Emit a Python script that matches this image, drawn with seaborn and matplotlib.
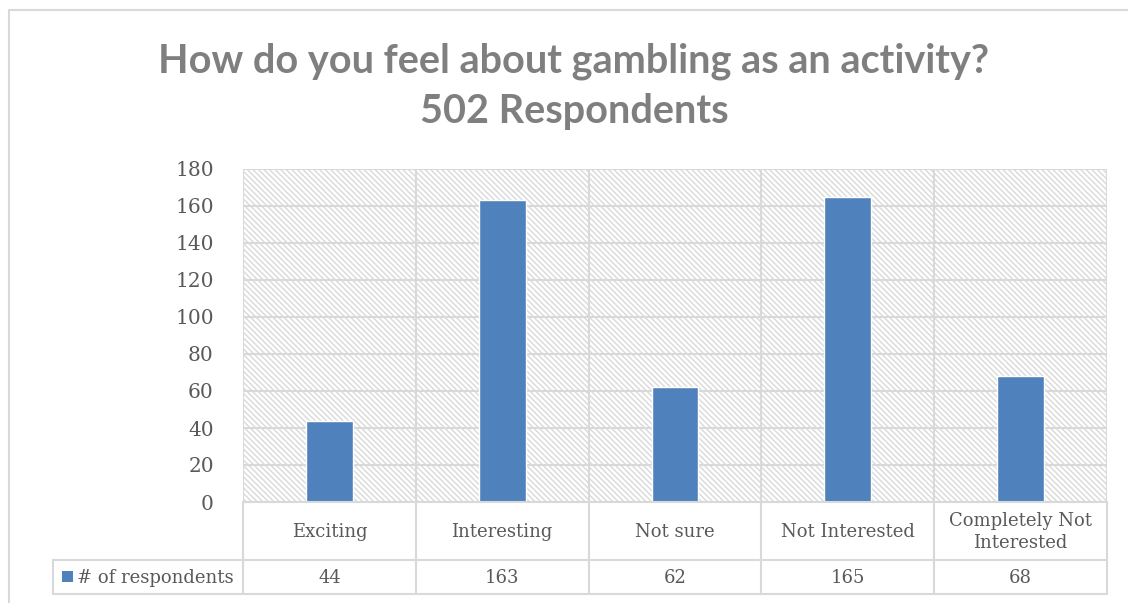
"""
Survey chart: How do you feel about gambling as an activity?
Excel-style bar chart with data table underneath.
"""
import matplotlib
matplotlib.use("Agg")
import matplotlib.pyplot as plt
from matplotlib.patches import Rectangle
import pandas as pd
import seaborn as sns

CATEGORIES = ["Exciting", "Interesting", "Not sure", "Not Interested", "Completely Not\nInterested"]
RESPONDENTS = [44, 163, 62, 165, 68]
SERIES_NAME = "# of respondents"
TITLE = "How do you feel about gambling as an activity?\n502 Respondents"
Y_TICKS = list(range(0, 181, 20))

BAR_COLOR = "#4f81bd"
GRID_COLOR = "#d9d9d9"
TEXT_COLOR = "#595959"
TITLE_COLOR = "#7f7f7f"
SERIF = ["DejaVu Serif"]

W, H = 1128, 603

sns.set_theme(style="white")
plt.rcParams["font.family"] = SERIF
plt.rcParams["hatch.color"] = "#d9d9d9"
plt.rcParams["hatch.linewidth"] = 1.0

df = pd.DataFrame({"category": CATEGORIES, "count": RESPONDENTS})

fig = plt.figure(figsize=(W / 100, H / 100), dpi=100)

# plot area in pixel terms
px_l, px_r, px_t, px_b = 243, 1107, 169, 502
ax = fig.add_axes([px_l / W, 1 - px_b / H, (px_r - px_l) / W, (px_b - px_t) / H])

# hatched background
ax.add_patch(Rectangle((0, 0), 1, 1, transform=ax.transAxes, facecolor="white",
                       edgecolor="#d9d9d9", hatch="\\" * 6, linewidth=0, zorder=0))

sns.barplot(data=df, x="category", y="count", color=BAR_COLOR, width=0.27,
            saturation=1, ax=ax, zorder=3)

ax.set_ylim(0, 180)
ax.set_xlim(-0.5, len(CATEGORIES) - 0.5)
ax.set_yticks(Y_TICKS)
ax.set_yticklabels([str(t) for t in Y_TICKS], fontsize=14.5, color=TEXT_COLOR)
ax.tick_params(axis="y", length=0, pad=21)
ax.set_xticks([])
ax.set_xlabel("")
ax.set_ylabel("")
for y in Y_TICKS:
    ax.axhline(y, color=GRID_COLOR, linewidth=1.5, zorder=1)
for i in range(len(CATEGORIES) + 1):
    ax.axvline(i - 0.5, color=GRID_COLOR, linewidth=1.5, zorder=1)
for s in ax.spines.values():
    s.set_visible(False)

# overlay in pixel coordinates for frame and data table
ov = fig.add_axes([0, 0, 1, 1], zorder=5)
ov.set_xlim(0, W)
ov.set_ylim(H, 0)
ov.axis("off")
ov.patch.set_alpha(0)

# outer chart border
ov.plot([9, 9, W], [H, 10, 10], color=GRID_COLOR, linewidth=1.5)

# data table
row1_b, row2_b = 560, 594
col_w = (px_r - px_l) / len(CATEGORIES)
edges = [px_l + i * col_w for i in range(len(CATEGORIES) + 1)]
for x in edges:
    ov.plot([x, x], [px_b, row2_b], color=GRID_COLOR, linewidth=1.5)
ov.plot([53, 53], [row1_b, row2_b], color=GRID_COLOR, linewidth=1.5)
ov.plot([53, px_r], [row1_b, row1_b], color=GRID_COLOR, linewidth=1.5)
ov.plot([53, px_r], [row2_b, row2_b], color=GRID_COLOR, linewidth=1.5)
ov.plot([px_l, px_r], [px_b, px_b], color=GRID_COLOR, linewidth=1.5)

for i, (cat, val) in enumerate(zip(CATEGORIES, RESPONDENTS)):
    cx = edges[i] + col_w / 2
    ov.text(cx, (px_b + row1_b) / 2 + 1, cat, ha="center", va="center",
            fontsize=13, color=TEXT_COLOR, linespacing=1.35)
    ov.text(cx, (row1_b + row2_b) / 2 + 1, str(val), ha="center", va="center",
            fontsize=13, color=TEXT_COLOR)

ov.add_patch(Rectangle((62, 571), 11, 11, facecolor=BAR_COLOR, edgecolor="none"))
ov.text(77, (row1_b + row2_b) / 2 + 1, SERIES_NAME, ha="left", va="center",
        fontsize=13, color=TEXT_COLOR)

fig.text(574 / W, 1 - 86 / H, TITLE, ha="center", va="center", fontsize=28.5,
         fontweight="bold", color=TITLE_COLOR, family=["Lato", "DejaVu Sans"],
         linespacing=1.42)

fig.savefig("out.png", dpi=100)
